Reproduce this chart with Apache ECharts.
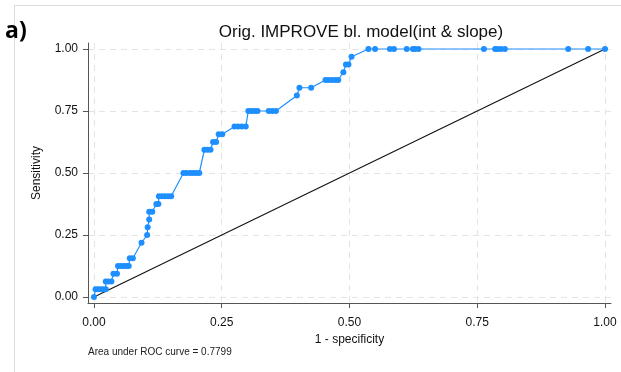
<!DOCTYPE html>
<html>
<head>
<meta charset="utf-8">
<script src="https://cdn.jsdelivr.net/npm/echarts@6/dist/echarts.min.js"></script>
<style>
  html, body { margin: 0; padding: 0; background: #fff; }
  #chart { width: 621px; height: 372px; }
</style>
</head>
<body>
<div id="chart"></div>
<script>
// ROC points: 1 - specificity (false positive rate) and sensitivity
const fpr = [0, 0.003, 0.008, 0.013, 0.018, 0.023, 0.023, 0.028, 0.034, 0.038, 0.045,
  0.047, 0.052, 0.058, 0.063, 0.068, 0.07, 0.076, 0.093, 0.104, 0.105, 0.108, 0.108, 0.114,
  0.122, 0.126, 0.127, 0.133, 0.139, 0.145, 0.151, 0.175, 0.181, 0.188, 0.194, 0.2, 0.206,
  0.216, 0.222, 0.228, 0.233, 0.239, 0.244, 0.251, 0.275, 0.282, 0.289, 0.297, 0.302, 0.308,
  0.314, 0.32, 0.342, 0.349, 0.356, 0.397, 0.402, 0.425, 0.453, 0.459, 0.466, 0.472, 0.478,
  0.488, 0.493, 0.498, 0.504, 0.537, 0.55, 0.579, 0.587, 0.612, 0.624, 0.628, 0.635,
  0.763, 0.785, 0.789, 0.796, 0.804, 0.928, 0.967, 1];
const sensitivity = [0, 0.03125, 0.03125, 0.03125, 0.03125, 0.03125, 0.0625, 0.0625, 0.0625,
  0.09375, 0.09375, 0.125, 0.125, 0.125, 0.125, 0.125, 0.15625, 0.15625, 0.21875, 0.25,
  0.28125, 0.3125, 0.34375, 0.34375, 0.375, 0.375, 0.40625, 0.40625, 0.40625, 0.40625, 0.40625,
  0.5, 0.5, 0.5, 0.5, 0.5, 0.5, 0.59375, 0.59375, 0.59375, 0.625, 0.625, 0.65625, 0.65625,
  0.6875, 0.6875, 0.6875, 0.6875, 0.75, 0.75, 0.75, 0.75, 0.75, 0.75, 0.75, 0.8125, 0.84375,
  0.84375, 0.875, 0.875, 0.875, 0.875, 0.875, 0.90625, 0.9375, 0.9375, 0.96875, 1, 1, 1, 1,
  1, 1, 1, 1, 1, 1, 1, 1, 1, 1, 1, 1];
const referenceLine = [[0, 0], [1, 1]];
const tickValues = [0, 0.25, 0.5, 0.75, 1];
const titleText = 'Orig. IMPROVE bl. model(int & slope)';
const panelLabel = 'a)';
const aucNote = 'Area under ROC curve = 0.7799';

const rocPoints = fpr.map((x, i) => [x, sensitivity[i]]);

// plot region is padded a few pixels inside the axis lines
const pad = 6;
const plotW = 511, plotH = 248;
const xPad = pad / plotW, yPad = pad / plotH;

const chart = echarts.init(document.getElementById('chart'), null, { renderer: 'canvas' });
const font = '"Liberation Sans", Arial, sans-serif';
const fmt = v => v.toFixed(2);
const blue = '#1E8FFF';
const gridStyle = { color: '#e4e4e4', type: [6, 5], width: 1 };

chart.setOption({
  animation: false,
  title: {
    text: titleText,
    left: 356, top: 19, textAlign: 'center',
    textStyle: { fontFamily: font, fontSize: 17, fontWeight: 'normal', color: '#111' }
  },
  graphic: [
    { type: 'line', shape: { x1: 14, y1: 5.5, x2: 621, y2: 5.5 }, style: { stroke: '#dcdcdc', lineWidth: 1 } },
    { type: 'line', shape: { x1: 14.5, y1: 5, x2: 14.5, y2: 372 }, style: { stroke: '#dcdcdc', lineWidth: 1 } },
    { type: 'text', x: 5, y: 20, style: { text: panelLabel, font: 'bold 23px "Open Sans", sans-serif', fill: '#000' } },
    { type: 'text', x: 88, y: 347, style: { text: aucNote, font: '10px ' + font, fill: '#222' } }
  ],
  grid: { left: 88, right: 10, top: 43, bottom: 69 },
  xAxis: {
    type: 'value', min: -xPad, max: 1 + xPad,
    name: '1 - specificity', nameLocation: 'middle', nameGap: 28,
    nameTextStyle: { fontFamily: font, fontSize: 12, color: '#111' },
    axisLine: { show: true, onZero: false, lineStyle: { color: '#555', width: 1 } },
    axisTick: { show: true, customValues: tickValues, length: 5, lineStyle: { color: '#555' } },
    axisLabel: { customValues: tickValues, formatter: fmt, margin: 14, fontFamily: font, fontSize: 12, color: '#111' },
    splitLine: { show: true, lineStyle: gridStyle }
  },
  yAxis: {
    type: 'value', min: -yPad, max: 1 + yPad,
    name: 'Sensitivity', nameLocation: 'middle', nameGap: 45, nameRotate: 90,
    nameTextStyle: { fontFamily: font, fontSize: 12, color: '#111' },
    axisLine: { show: true, onZero: false, lineStyle: { color: '#555', width: 1 } },
    axisTick: { show: true, customValues: tickValues, length: 5, lineStyle: { color: '#555' } },
    axisLabel: { customValues: tickValues, formatter: fmt, margin: 10, fontFamily: font, fontSize: 12, color: '#111' },
    splitLine: { show: true, lineStyle: gridStyle }
  },
  series: [
    {
      type: 'line', data: referenceLine, symbol: 'none',
      lineStyle: { color: '#111', width: 1.1 }, z: 3
    },
    {
      type: 'line', data: rocPoints, showSymbol: false,
      lineStyle: { color: blue, width: 1.2 }, z: 4
    },
    {
      type: 'scatter', data: rocPoints, symbol: 'circle', symbolSize: 6,
      itemStyle: { color: blue, opacity: 1 }, z: 5
    }
  ]
});
</script>
</body>
</html>
